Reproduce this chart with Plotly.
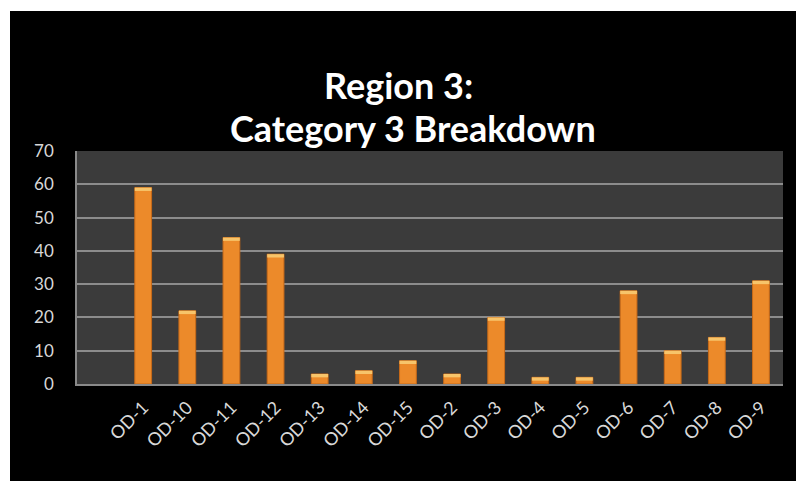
import plotly.graph_objects as go

categories = ["OD-1", "OD-10", "OD-11", "OD-12", "OD-13", "OD-14", "OD-15",
              "OD-2", "OD-3", "OD-4", "OD-5", "OD-6", "OD-7", "OD-8", "OD-9"]
values = [59, 22, 44, 39, 3, 4, 7, 3, 20, 2, 2, 28, 10, 14, 31]
y_ticks = [0, 10, 20, 30, 40, 50, 60, 70]
title_lines = ["Region 3:", "Category 3 Breakdown"]

cap = 1.0
fig = go.Figure()
fig.add_trace(go.Bar(
    x=categories, y=values, width=0.38,
    marker=dict(color="#ec8a2a", line=dict(color="#c86a18", width=1)),
))
fig.add_trace(go.Bar(
    x=categories, y=[min(cap, v * 0.5) for v in values],
    base=[v - min(cap, v * 0.5) for v in values], width=0.38,
    marker=dict(color="#f7c46a", line=dict(width=0)),
))

W, H = 796, 481
L, T = 77, 151
R, B = W - 783, H - 384
pw, ph = W - L - R, H - T - B

def py(y):
    return (H - B - y) / ph

def px(x):
    return (x - L) / pw

fig.update_layout(
    width=W, height=H,
    margin=dict(l=L, r=R, t=T, b=B),
    paper_bgcolor="black",
    plot_bgcolor="#3b3b3b",
    barmode="overlay",
    showlegend=False,
    font=dict(family="Lato", color="#d8d8d8", size=15),
    xaxis=dict(
        type="category", categoryorder="array", categoryarray=categories,
        range=[-1.5, 14.5], tickangle=-45, showgrid=False,
        showline=True, linecolor="#8a8a8a", linewidth=2,
        ticks="", ticklabelstandoff=4, tickfont=dict(size=18, color="#d8d8d8"),
    ),
    yaxis=dict(
        range=[0, 70], tickvals=y_ticks, showgrid=True,
        gridcolor="#8c8c8c", gridwidth=1.5,
        showline=True, linecolor="#8a8a8a", linewidth=1.5,
        ticks="", ticklabelstandoff=18,
        tickfont=dict(size=17, color="#d8d8d8"), zeroline=False,
    ),
    annotations=[
        dict(text="<b>%s</b>" % title_lines[0], xref="paper", yref="paper",
             x=px(398), y=py(85), xanchor="center", yanchor="middle",
             showarrow=False, font=dict(family="Lato", size=36, color="white")),
        dict(text="<b>%s</b>" % title_lines[1], xref="paper", yref="paper",
             x=px(413), y=py(128), xanchor="center", yanchor="middle",
             showarrow=False, font=dict(family="Lato", size=36, color="white")),
    ],
    shapes=[
        dict(type="rect", xref="paper", yref="paper", layer="below",
             x0=-5, x1=px(10), y0=-5, y1=5,
             fillcolor="white", line=dict(width=0)),
        dict(type="rect", xref="paper", yref="paper", layer="below",
             x0=-5, x1=5, y0=py(11), y1=5,
             fillcolor="white", line=dict(width=0)),
    ],
)

fig.write_html(
    "out.html",
    config={"displayModeBar": False},
    post_script="document.body.style.margin='0';document.body.style.overflow='hidden';",
)
